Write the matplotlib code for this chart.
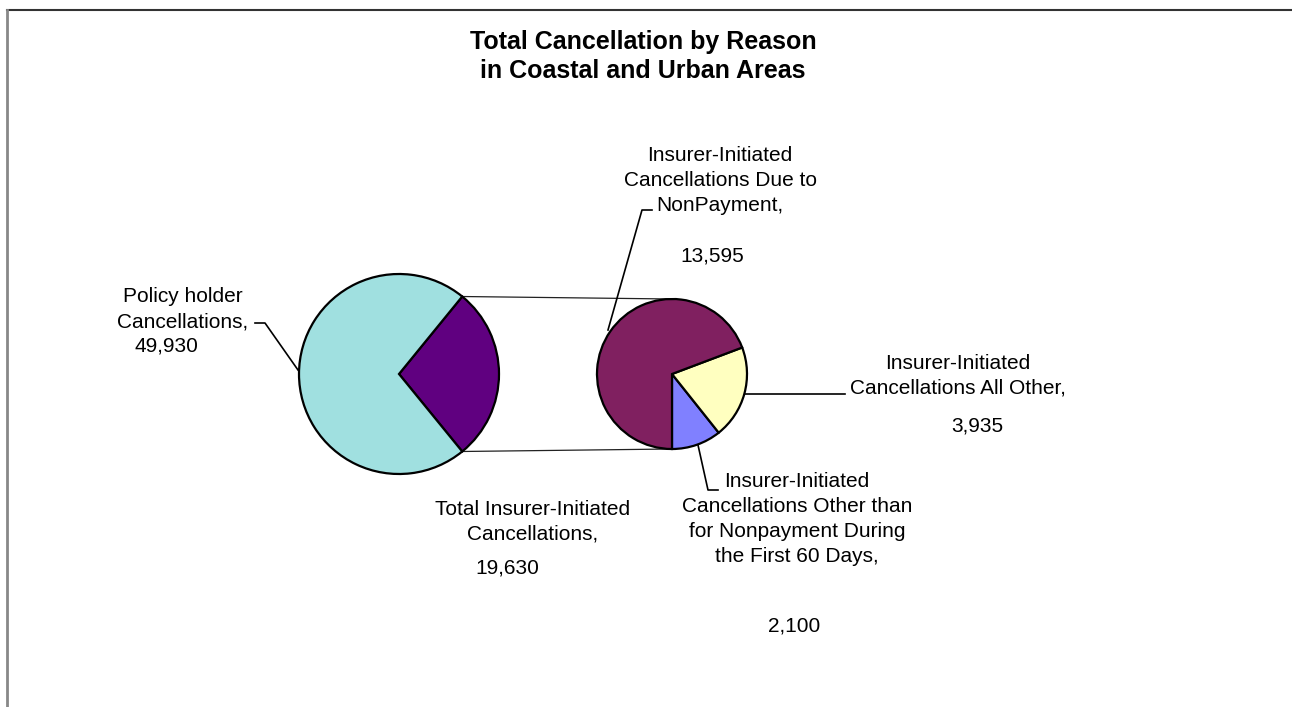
import numpy as np
import matplotlib.pyplot as plt

plt.rcParams['font.family'] = ['Liberation Sans', 'DejaVu Sans']

W, H = 1292, 707

title = 'Total Cancellation by Reason\nin Coastal and Urban Areas'

# first pie: insurer-initiated slice gets split out into the second pie
main_labels = ['Total Insurer-Initiated\nCancellations,', 'Policy holder\nCancellations,']
main_values = [19630, 49930]
main_colors = ['#600080', '#A0E0E0']

sub_labels = ['Insurer-Initiated\nCancellations Other than\nfor Nonpayment During\nthe First 60 Days,',
              'Insurer-Initiated\nCancellations All Other,',
              'Insurer-Initiated\nCancellations Due to\nNonPayment,']
sub_values = [2100, 3935, 13595]
sub_colors = ['#8080FF', '#FFFFC0', '#802060']


def py(y):
    # pixel row (from top) -> data y
    return H - y


fig = plt.figure(figsize=(W / 100, H / 100), dpi=100)
ax = fig.add_axes([0, 0, 1, 1])

c1, r1 = (399, py(374)), 100
c2, r2 = (672, py(374)), 75

half = 180.0 * main_values[0] / sum(main_values)
edge = dict(edgecolor='black', linewidth=1.6)
ax.pie(main_values, colors=main_colors, center=c1, radius=r1,
       startangle=-half, counterclock=True, wedgeprops=edge)
ax.pie(sub_values, colors=sub_colors, center=c2, radius=r2,
       startangle=270, counterclock=True, wedgeprops=edge)

# connector lines between the two pies
a = np.deg2rad(half)
for s in (1, -1):
    x0 = c1[0] + r1 * np.cos(a)
    y0 = c1[1] + s * r1 * np.sin(a)
    ax.plot([x0, c2[0]], [y0, c2[1] + s * r2], color='#222222', lw=0.9, zorder=0)

# leader lines (pixel coords)
leaders = [
    [(255, 323), (265, 323), (298, 370)],
    [(652, 210), (642, 210), (608, 330)],
    [(745, 394), (845, 394)],
    [(698, 445), (708, 490), (718, 490)],
]
for pts in leaders:
    ax.plot([p[0] for p in pts], [py(p[1]) for p in pts], color='black', lw=1.2)

fs = 15
ls = 1.4
# (label x, last-line baseline, value x, value baseline)
lab_pos = {
    'Policy': (183, 327, 166, 351),
    'Total': (533, 540, 507, 574),
    'NonPay': (720, 211, 712, 262),
    'AllOther': (958, 394, 977, 431),
    'Other60': (797, 562, 794, 631),
}
all_labels = [
    (main_labels[1], main_values[1], lab_pos['Policy']),
    (main_labels[0], main_values[0], lab_pos['Total']),
    (sub_labels[2], sub_values[2], lab_pos['NonPay']),
    (sub_labels[1], sub_values[1], lab_pos['AllOther']),
    (sub_labels[0], sub_values[0], lab_pos['Other60']),
]
for text, val, (lx, ly, vx, vy) in all_labels:
    ax.text(lx, py(ly), text, ha='center', va='baseline', fontsize=fs,
            linespacing=ls)
    ax.text(vx, py(vy), f'{val:,}', ha='center', va='baseline', fontsize=fs)

ax.text(643, py(78), title, ha='center', va='baseline', fontsize=18,
        fontweight='bold', linespacing=1.24)

# chart area border (only top and left visible)
ax.plot([7, W], [py(10), py(10)], color='#333333', lw=1.5)
ax.plot([7, 7], [py(10), 0], color='#888888', lw=2)

ax.set_xlim(0, W)
ax.set_ylim(0, H)
ax.set_aspect('equal')
ax.set_axis_off()

fig.savefig('out.png', dpi=100, facecolor='white')
